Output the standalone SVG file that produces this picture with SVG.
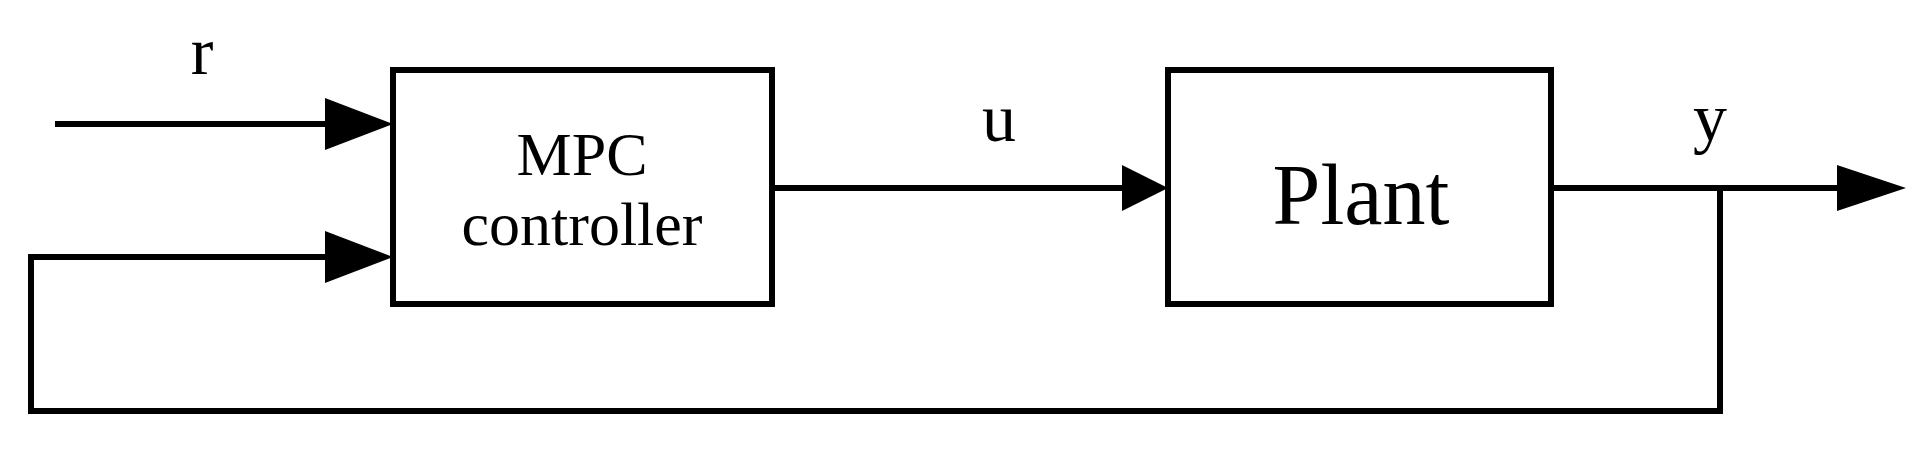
<svg xmlns="http://www.w3.org/2000/svg" width="1922" height="450" viewBox="0 0 1922 450">
<style>
.b{fill:none;stroke:#000;stroke-width:6}
.l{fill:none;stroke:#000;stroke-width:6}
text{font-family:"Liberation Serif",serif;fill:#000;text-anchor:middle}
</style>
<rect width="1922" height="450" fill="#fff"/>
<g id="mpc"><rect class="b" x="393" y="70" width="379" height="234"/>
<text x="582" y="175" font-size="62">MPC</text><text x="582" y="245" font-size="62">controller</text></g>
<g id="plant"><rect class="b" x="1168" y="70" width="383" height="234"/>
<text x="1361" y="224" font-size="86">Plant</text></g>
<g id="labels"><text x="202" y="74" font-size="68">r</text><text x="999" y="141" font-size="68">u</text><text x="1710" y="141" font-size="68">y</text></g>
<g id="connectors">
<path class="l" d="M55 124H330"/><polygon points="325,98 393,124 325,150"/>
<path class="l" d="M31 257H330"/><polygon points="325,231 393,257 325,283"/>
<path class="l" d="M31 254V411H1720V188"/>
<path class="l" d="M772 188H1125"/><polygon points="1122,165 1168,188 1122,211"/>
<path class="l" d="M1551 188H1840"/><polygon points="1837,165 1906,188 1837,211"/>
</g>
</svg>
